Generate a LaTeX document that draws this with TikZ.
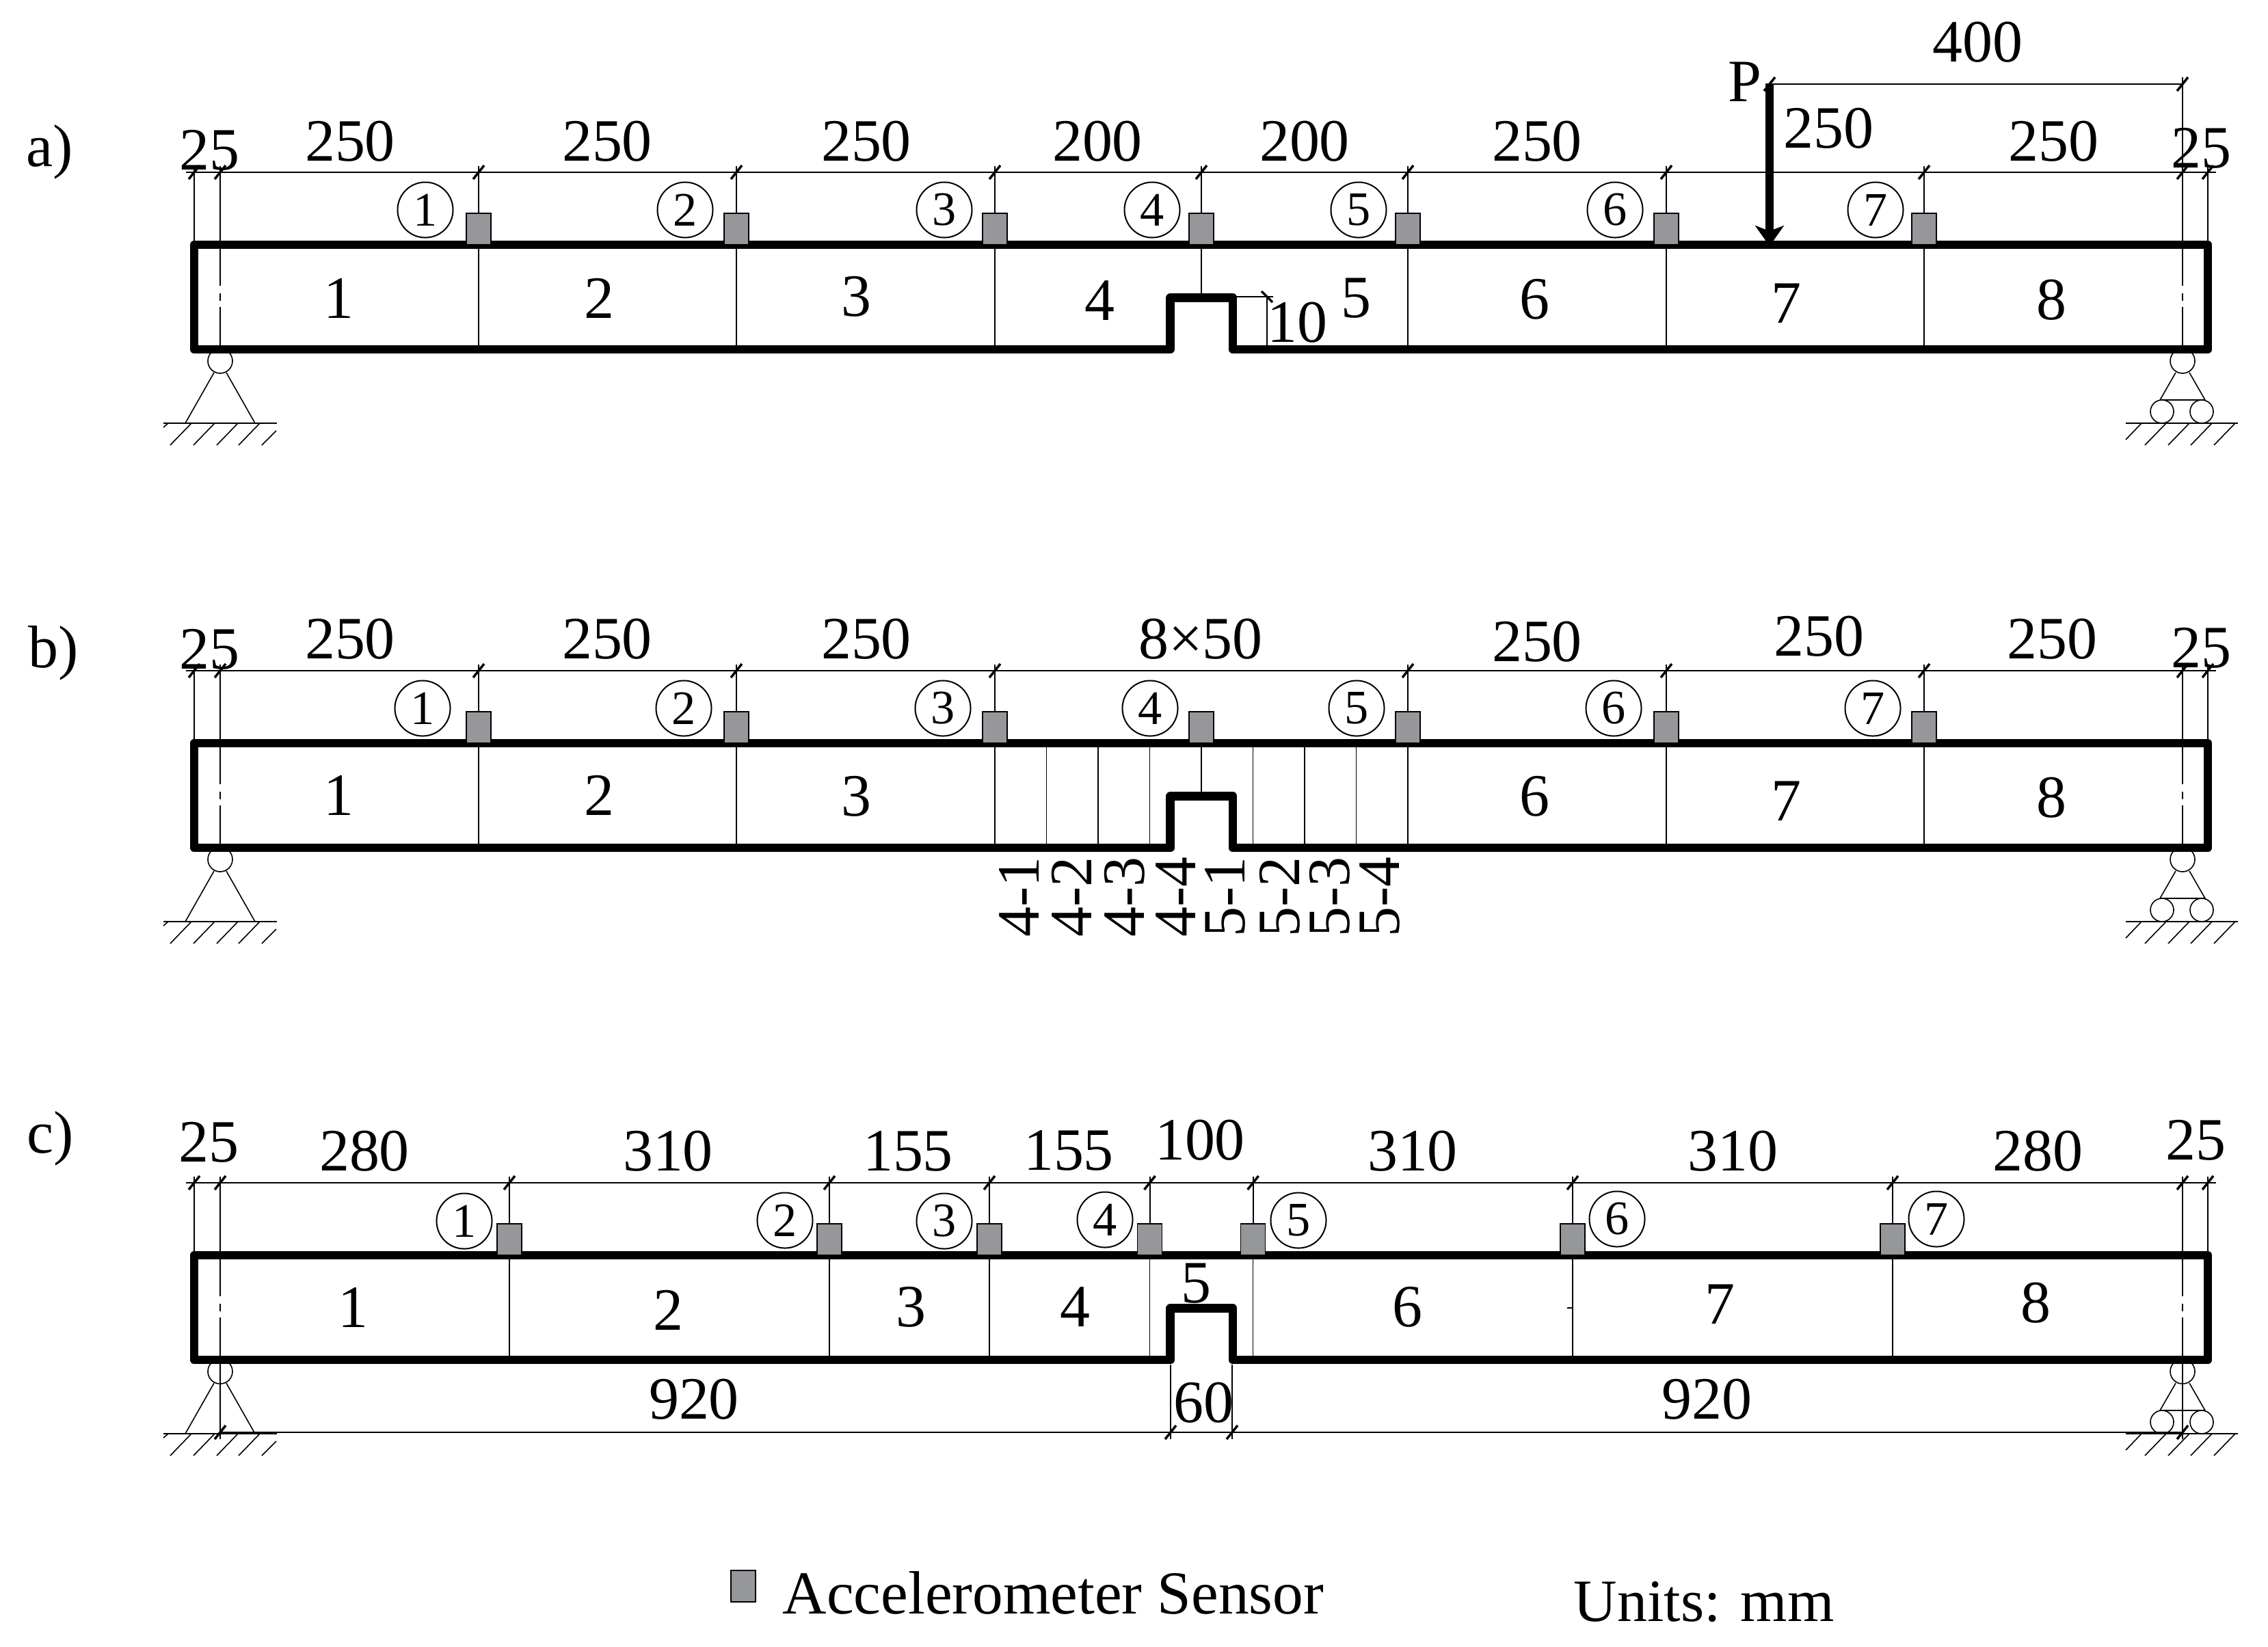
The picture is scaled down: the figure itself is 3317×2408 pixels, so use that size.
\documentclass[tikz,border=0pt]{standalone}
\usepackage{fontspec}
\setmainfont{Liberation Serif}
\usetikzlibrary{arrows.meta}
\definecolor{sensorgray}{RGB}{150,151,155}
\tikzset{
  beamline/.style={line width=.125cm,line join=round},
  segline/.style={line width=.014cm},
  dimline/.style={line width=.02cm},
  tickline/.style={line width=.035cm},
  supline/.style={line width=.016cm},
  labeltext/.style={inner sep=0pt,font=\fontsize{25}{25}\selectfont},
  legendtext/.style={inner sep=0pt,font=\fontsize{25.4}{25.4}\selectfont},
  circled/.style={draw,circle,line width=.02cm,inner sep=0pt,minimum size=.81cm,font=\fontsize{20}{20}\selectfont},
  sensor/.style={draw,line width=.015cm,fill=sensorgray,inner sep=0pt,minimum width=.36cm,minimum height=.46cm},
}
\begin{document}
\begin{tikzpicture}[x=.01cm,y=-.01cm]
\useasboundingbox (0,0) rectangle (3317,2408);

% supports, outline and dimension line of the three beams
\foreach \dy in {0,729,1478} {
\begin{scope}[shift={(0,\dy)}]
\draw[supline] (322,528) circle[radius=18];
\draw[supline] (313,545) -- (271,619);
\draw[supline] (331,545) -- (373,619);
\draw[supline] (239,619) -- (405,619);
\draw[supline] (239,625) -- (246,619);
\foreach \x in {249,283,317,349} \draw[supline] (\x,651) -- ++(31,-32);
\draw[supline] (383,651) -- (404,630);
\draw[supline] (3192,528) circle[radius=18];
\draw[supline] (3182,545) -- (3159,585);
\draw[supline] (3202,545) -- (3225,585);
\draw[supline] (3159,585) -- (3225,585);
\draw[supline] (3162,602) circle[radius=17];
\draw[supline] (3220,602) circle[radius=17];
\draw[supline] (3109,619) -- (3273,619);
\draw[supline] (3109,643) -- (3132,619);
\foreach \x in {3137,3171,3204,3238} \draw[supline] (\x,651) -- ++(31,-32);
\draw[dimline] (272,252) -- (3241,252);
\draw[dimline] (284,243) -- (284,358);
\draw[dimline] (3229,243) -- (3229,358);
\foreach \x in {322,3192} {
\draw[dimline] (\x,243) -- (\x,418);
\draw[dimline] (\x,429) -- (\x,440);
\draw[dimline] (\x,449) -- (\x,511);
}
\foreach \x in {284,322,3192,3229} \draw[tickline] (\x,252) ++(-8,10) -- ++(16,-20);
\end{scope}
}

% a)
\foreach \x in {700,1077,1455,2059,2437,2814} {
\draw[segline] (\x,358) -- (\x,511);
\draw[dimline] (\x,243) -- (\x,358);
\draw[tickline] (\x,252) ++(-8,10) -- ++(16,-20);
}
\draw[segline] (1757,358) -- (1757,436);
\draw[dimline] (1757,243) -- (1757,358);
\draw[tickline] (1757,252) ++(-8,10) -- ++(16,-20);
\draw[dimline] (3192,113) -- (3192,243);
\draw[dimline] (2588,123) -- (3192,123);
\foreach \x in {2588,3192} \draw[tickline] (\x,123) ++(-8,10) -- ++(16,-20);
\draw[dimline] (1808,434) -- (1862,434);
\draw[dimline] (1853,434) -- (1853,505);
\draw[tickline] (1845,426) -- (1861,442);

% b)
\foreach \x in {700,1077,1455,2059,2437,2814} {
\draw[segline] (\x,1087) -- (\x,1240);
\draw[dimline] (\x,972) -- (\x,1087);
\draw[tickline] (\x,981) ++(-8,10) -- ++(16,-20);
}
\foreach \x in {1530.6,1606,1681.6,1832.6,1908,1983.7} \draw[segline] (\x,1087) -- (\x,1240);
\draw[segline] (1757,1087) -- (1757,1165);

% c)
\foreach \x in {745,1213,1447,1681.5,1832.6,2300,2768} {
\draw[segline] (\x,1836) -- (\x,1989);
\draw[dimline] (\x,1721) -- (\x,1836);
\draw[tickline] (\x,1730) ++(-8,10) -- ++(16,-20);
}
\draw[segline] (2292,1913) -- (2300,1913);
\draw[dimline] (322,2095) -- (3192,2095);
\draw[dimline] (322,1989) -- (322,2105);
\draw[dimline] (3192,1989) -- (3192,2105);
\draw[segline] (1712,1996) -- (1712,2105);
\draw[segline] (1802,1996) -- (1802,2105);
\foreach \x in {322,1712,1802,3192} \draw[tickline] (\x,2095) ++(-8,10) -- ++(16,-20);

% beams
\foreach \dy in {0,729,1478} {
\draw[beamline] (284,358+\dy) -- (3229,358+\dy) -- (3229,511+\dy) -- (1803,511+\dy) -- (1803,435.5+\dy) -- (1711.7,435.5+\dy) -- (1711.7,511+\dy) -- (284,511+\dy) -- cycle;
}

% load
\draw[line width=.12cm,-{Stealth[length=.3cm,width=.42cm,inset=.08cm]}] (2588,122) -- (2588,360);
\node[labeltext] (loadp) at (2552,120) {P};

% sensors
\foreach \n/\x in {1/700,2/1077,3/1455,4/1757,5/2059,6/2437,7/2814} {
\node[sensor] (sa\n) at (\x,335) {};
\node[sensor] (sb\n) at (\x,1064) {};
}
\foreach \n/\x in {1/745,2/1213,3/1447,4/1681.5,5/1832.6,6/2300,7/2768} \node[sensor] (sc\n) at (\x,1813) {};

% circled numbers
\foreach \n/\x/\y in {1/622/307,2/1002/307,3/1381/307,4/1685/307,5/1987/307,6/2362/307,7/2743/307} \node[circled] (ca\n) at (\x,\y) {\n};
\foreach \n/\x/\y in {1/618/1036,2/1000/1036,3/1379/1036,4/1682/1036,5/1984/1036,6/2360/1036,7/2739/1036} \node[circled] (cb\n) at (\x,\y) {\n};
\foreach \n/\x/\y in {1/679/1786,2/1148/1785,3/1381/1786,4/1616/1784,5/1899/1785,6/2365/1783,7/2832/1783} \node[circled] (cc\n) at (\x,\y) {\n};

% segment numbers
\foreach \n/\x/\y in {1/495/436,2/876/436,3/1252/434,4/1608/440,5/1983/436,6/2244/438,7/2612/444,8/3000/439} \node[labeltext] (na\n) at (\x,\y) {\n};
\foreach \n/\x/\y in {1/495/1163,2/876/1163,3/1252/1165,6/2244/1165,7/2612/1172,8/3000/1167} \node[labeltext] (nb\n) at (\x,\y) {\n};
\foreach \n/\x/\y in {1/516/1912,2/977/1916,3/1332/1912,4/1572/1912,5/1749/1877,6/2058/1912,7/2515/1908,8/2977/1906} \node[labeltext] (nc\n) at (\x,\y) {\n};

% dimensions
\foreach \n/\x/\y/\t in {1/306/220/25,2/512/207/250,3/888/207/250,4/1267/207/250,5/1605/207/200,6/1908/207/200,7/2248/207/250,8/2674/188/250,9/3003/207/250,10/3219/217/25,11/2892/62/400,12/1897/472/10} \node[labeltext] (da\n) at (\x,\y) {\t};
\foreach \n/\x/\y/\t in {1/306/950/25,2/512/935/250,3/888/935/250,4/1267/935/250,5/1756/935/8×50,6/2248/939/250,7/2660/931/250,8/3001/935/250,9/3219/948/25} \node[labeltext] (db\n) at (\x,\y) {\t};
\foreach \n/\x/\y/\t in {1/305/1671/25,2/533/1684/280,3/977/1684/310,4/1328/1684/155,5/1563/1683/155,6/1755/1668/100,7/2066/1684/310,8/2534/1684/310,9/2980/1684/280,10/3211/1668/25,11/1015/2047/920,12/2496/2047/920,13/1760/2052/60} \node[labeltext] (dc\n) at (\x,\y) {\t};

% cross sections of b)
\foreach \n/\x/\t in {1/1490/4-1,2/1567/4-2,3/1645/4-3,4/1720/4-4,5/1792/5-1,6/1872/5-2,7/1945/5-3,8/2018/5-4} \node[labeltext,rotate=90,anchor=west] (xb\n) at (\x,1371) {\t};

\node[labeltext] (rowa) at (73,222) {a)};
\node[labeltext] (rowb) at (78,955) {b)};
\node[labeltext] (rowc) at (74,1665) {c)};

% legend
\node[sensor] (legsensor) at (1087,2320) {};
\node[legendtext,anchor=base west] (legtext) at (1144,2360) {Accelerometer Sensor};
\node[labeltext,anchor=base west] (legunits) at (2301,2371) {Units: mm};
\end{tikzpicture}
\end{document}
